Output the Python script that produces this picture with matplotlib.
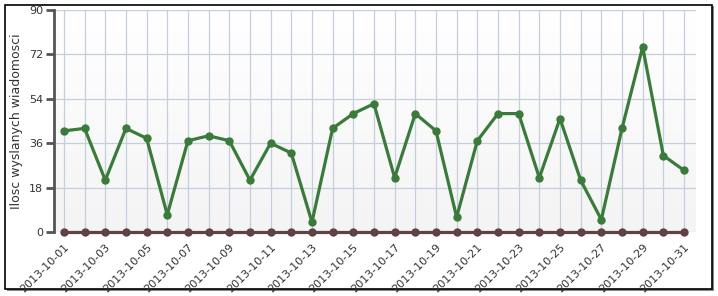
import matplotlib
matplotlib.use("Agg")
import matplotlib.pyplot as plt
from matplotlib.patches import Rectangle
import numpy as np

days = list(range(1, 32))
dates = [f"2013-10-{d:02d}" for d in days]
sent = [41, 42, 21, 42, 38, 7, 37, 39, 37, 21, 36, 32, 4, 42, 48, 52, 22, 48, 41, 6,
        37, 48, 48, 22, 46, 21, 5, 42, 75, 31, 25]
zero_series = [0] * 31
yticks = [0, 18, 36, 54, 72, 90]
ylabel = "Ilosc wyslanych wiadomosci"

fig = plt.figure(figsize=(7.18, 2.96), dpi=100)
W, H = 718, 296

# outer frame with shadow
fig.patches.append(Rectangle((7 / W, 1 - 291 / H), 707 / W, 285 / H, transform=fig.transFigure,
                             facecolor="#888888", edgecolor="none", zorder=0))
fig.patches.append(Rectangle((5 / W, 1 - 289 / H), 707 / W, 284 / H, transform=fig.transFigure,
                             facecolor="white", edgecolor="black", linewidth=1.2, zorder=1))

ax = fig.add_axes([54 / W, 1 - 232 / H, (696 - 54) / W, (232 - 10) / H])
ax.set_zorder(2)
# background gradient
grad = np.linspace(0, 1, 100).reshape(-1, 1)
ax.imshow(grad, extent=[0.52, 31.58, 0, 90], aspect="auto", cmap=matplotlib.colors.LinearSegmentedColormap.from_list("g", ["#f4f4f4", "#ffffff"]), origin="lower", zorder=0)
ax.set_xlim(0.52, 31.58)
ax.set_ylim(0, 90)

ax.set_xticks(days, minor=True)
ax.set_xticks(days[::2])
ax.set_xticklabels(dates[::2], rotation=45, ha="right", rotation_mode="anchor", fontsize=8, color="#333333")
ax.set_yticks(yticks)
ax.set_yticklabels([str(v) for v in yticks], fontsize=8, color="#333333")
ax.grid(True, which="both", axis="x", color="#c5cfdc", linewidth=0.9, zorder=1)
ax.grid(True, which="major", axis="y", color="#c5cfdc", linewidth=0.9, zorder=1)

for s in ["top", "right", "bottom"]:
    ax.spines[s].set_visible(False)
ax.spines["left"].set_color("#555555")
ax.spines["left"].set_linewidth(2)
ax.tick_params(axis="y", length=6, width=2, color="#555555", pad=2)
ax.tick_params(axis="x", which="both", length=3, width=1.2, color="#6b4a4a", pad=4)

ax.plot(days, sent, color="#3a7a3a", linewidth=2.3, marker="o", markersize=5, zorder=4, clip_on=False)
ax.plot(days, zero_series, color="#5f4242", linewidth=2.3, marker="o", markersize=5, zorder=5, clip_on=False)

ax.set_ylabel(ylabel, fontsize=9, color="#333333", labelpad=4)

fig.savefig("out.png", dpi=100)
